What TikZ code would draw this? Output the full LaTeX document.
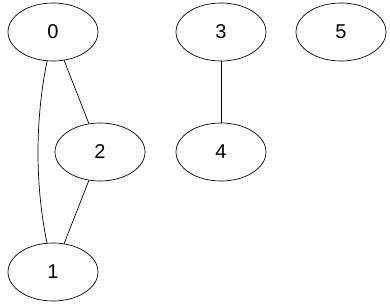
\documentclass[tikz,border=0pt]{standalone}
\usepackage{fontspec}
\setmainfont{Liberation Sans}
\usetikzlibrary{shapes.geometric}
\begin{document}
\begin{tikzpicture}[x=1pt,y=-1pt,
  vert/.style={draw, ellipse, line width=0.7pt, minimum width=90pt, minimum height=58pt, inner sep=0pt, font=\fontsize{20}{24}\selectfont},
  edge/.style={line width=0.7pt}]
\useasboundingbox (0,0) rectangle (390,307);
\node[vert] (n0) at (53,32) {0};
\node[vert] (n3) at (221,32) {3};
\node[vert] (n5) at (341,32) {5};
\node[vert] (n2) at (100,152) {2};
\node[vert] (n4) at (221,152) {4};
\node[vert] (n1) at (53,272) {1};
\draw[edge] (n0) .. controls (35,120) and (35,185) .. (n1);
\draw[edge] (n0) -- (n2);
\draw[edge] (n2) -- (n1);
\draw[edge] (n3) -- (n4);
\end{tikzpicture}
\end{document}
